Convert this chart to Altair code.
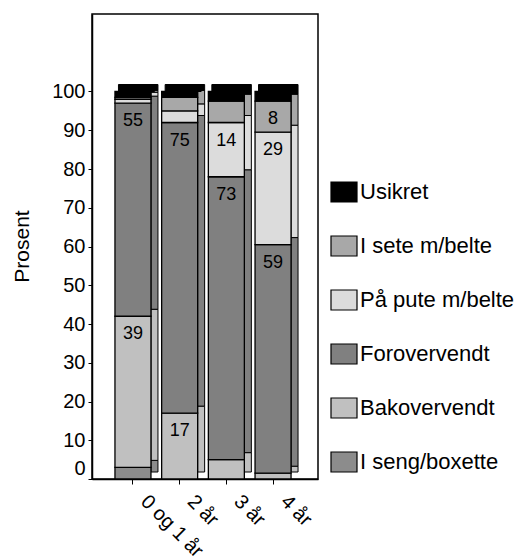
import altair as alt
import pandas as pd

categories = ["0 og 1 år", "2 år", "3 år", "4 år"]
series = ["I seng/boxette", "Bakovervendt", "Forovervendt", "På pute m/belte", "I sete m/belte", "Usikret"]

i_seng = [3, 0, 0, 0]
bakovervendt = [39, 17, 5, 1.5]
forovervendt = [55, 75, 73, 59]
paa_pute = [1, 3, 14, 29]
i_sete = [0.5, 3.5, 5.5, 8]
usikret = [1.5, 1.5, 2.5, 2.5]

lab_bak = ["39", "17", "", ""]
lab_for = ["55", "75", "73", "59"]
lab_pute = ["", "", "14", "29"]
lab_sete = ["", "", "", "8"]
lab_none = ["", "", "", ""]

legend_order = ["Usikret", "I sete m/belte", "På pute m/belte", "Forovervendt", "Bakovervendt", "I seng/boxette"]
legend_colors = ["#000000", "#a8a8a8", "#dcdcdc", "#808080", "#c0c0c0", "#8c8c8c"]

values = [i_seng, bakovervendt, forovervendt, paa_pute, i_sete, usikret]
labels = [lab_none, lab_bak, lab_for, lab_pute, lab_sete, lab_none]

rows = []
for k, s in enumerate(series):
    for j, c in enumerate(categories):
        if values[k][j] > 0:
            rows.append({"cat": c, "ser": s, "ord": k, "value": values[k][j], "label": labels[k][j]})
df = pd.DataFrame(rows)

FONT = "Liberation Sans"

base = alt.Chart(df).transform_stack(
    stack="value", groupby=["cat"], as_=["v0", "v1"],
    sort=[alt.SortField("ord", order="ascending")]
)

x = alt.X("cat:N", sort=categories, title=None,
          scale=alt.Scale(paddingInner=0.23, paddingOuter=0.535, align=0.46),
          axis=alt.Axis(labelAngle=45, labelFontSize=20, labelFont=FONT, labelColor="black",
                        tickColor="black", tickSize=5, labelPadding=14, labelOffset=11,
                        domainColor="black", domainWidth=1.5, labelAlign="left",
                        labelBaseline="middle"))
y = alt.Y("v0:Q", title="Prosent",
          scale=alt.Scale(domain=[0, 120], nice=False),
          axis=alt.Axis(values=list(range(0, 101, 10)), labelFontSize=20, labelFont=FONT,
                        labelColor="black", tickColor="black", tickSize=4, labelPadding=3,
                        domainColor="black", domainWidth=1.5, grid=False,
                        labelOffset=alt.condition("datum.value == 0", alt.value(-11), alt.value(0)),
                        titleFontSize=21, titleFont=FONT, titleFontWeight="normal",
                        titleColor="black", titleAngle=-90, titleX=-64, titleY=232,
                        titleBaseline="alphabetic", titleAlign="center"))
color = alt.Color("ser:N", scale=alt.Scale(domain=legend_order, range=legend_colors),
                  legend=alt.Legend(title=None, orient="none", legendX=241, legendY=167,
                                    symbolType="M-1.3,-1H1.3V1H-1.3Z", symbolSize=400,
                                    symbolStrokeColor="black", symbolStrokeWidth=1.2,
                                    symbolOpacity=1, labelFontSize=22, labelFont=FONT,
                                    labelColor="black", labelOffset=5, rowPadding=28,
                                    padding=0))

side = base.mark_bar(width=7, xOffset=21.5, yOffset=-7, y2Offset=-7,
                     stroke="black", strokeWidth=1, opacity=1).encode(
    x=x, y=y, y2="v1:Q", color=color, order=alt.Order("ord:Q"))

cap = base.transform_filter(alt.datum.ser == "Usikret").mark_bar(
    width=36, xOffset=3.5, y2Offset=-7, stroke="black", strokeWidth=1, opacity=1).encode(
    x=x, y=alt.Y("v1:Q"), y2="v1:Q", color=color)

front = base.mark_bar(width=36, stroke="black", strokeWidth=1.3, opacity=1).encode(
    x=x, y=y, y2="v1:Q", color=color, order=alt.Order("ord:Q"))

text = base.transform_filter(alt.datum.label != "").mark_text(
    baseline="top", dy=9, fontSize=18, font=FONT, color="black").encode(
    x=x, y=alt.Y("v1:Q"), text="label:N")

chart = alt.layer(side, cap, front, text).properties(
    width=226, height=465, autosize="none", background="white",
    padding={"left": 92, "top": 14, "right": 196, "bottom": 77}
).configure_view(stroke="black", strokeWidth=1.5)

chart.save("out.html", embed_options={"renderer": "svg", "actions": False})
